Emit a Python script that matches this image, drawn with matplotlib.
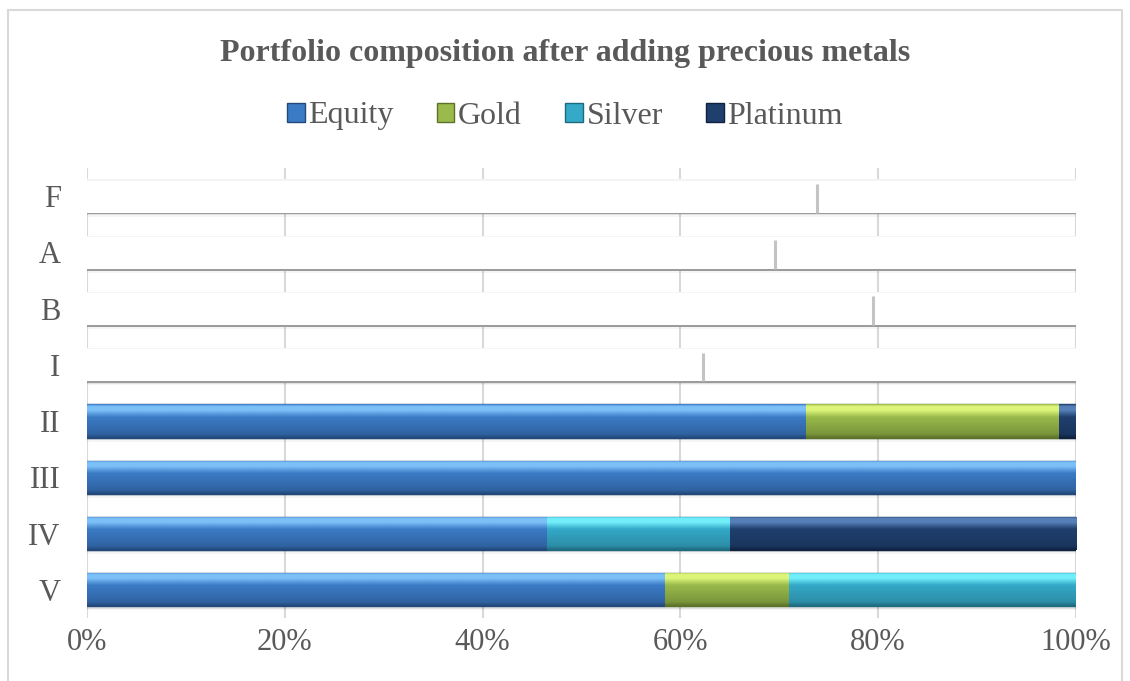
import matplotlib
matplotlib.use("Agg")
import matplotlib.pyplot as plt
import numpy as np
from matplotlib.patches import Rectangle
from matplotlib.colors import LinearSegmentedColormap

matplotlib.rcParams.update({'font.family': 'Liberation Serif'})

# data (shares of each portfolio)
categories = ["F", "A", "B", "I", "II", "III", "IV", "V"]
series_names = ["Equity", "Gold", "Silver", "Platinum"]
equity = [0.0, 0.0, 0.0, 0.0, 0.727, 1.0, 0.465, 0.585]
gold = [0.0, 0.0, 0.0, 0.0, 0.256, 0.0, 0.0, 0.125]
silver = [0.0, 0.0, 0.0, 0.0, 0.0, 0.0, 0.185, 0.290]
platinum = [0.0, 0.0, 0.0, 0.0, 0.017, 0.0, 0.350, 0.0]
# rows without visible series: invisible (white) split points
blank_split = [0.738, 0.696, 0.795, 0.623, None, None, None, None]

main_colors = ['#3b7bc6', '#9aba4b', '#34a9c8', '#1f3f6d']
light_colors = ['#7cc0f8', '#dcf57a', '#72eefa', '#5680b8']
dark_colors = ['#3063a2', '#7a963c', '#2c8ea8', '#1a365f']
edge_colors = ['#24487a', '#5c7229', '#1f6a7e', '#0f2240']
text_color = '#595959'
grid_color = '#d9d9d9'

values = [equity, gold, silver, platinum]
ypos = np.arange(len(categories))
bh = 0.59

fig = plt.figure(figsize=(11.3, 6.81), dpi=100)
ax = fig.add_axes([0.077, 0.0925, 0.875, 0.661])

# chart border
fig.patches.append(Rectangle((8 / 1130, -0.05), (1122 - 8) / 1130, 1 - 10 / 681 + 0.05,
                             transform=fig.transFigure, fill=False,
                             edgecolor=grid_color, linewidth=1.5))

ax.grid(axis='x', color=grid_color, linewidth=1.5, zorder=0)
ax.set_axisbelow(True)

full = np.ones(len(categories))

# soft shadows under every bar
ax.barh(ypos + 0.07, full, height=bh, color='#000000', alpha=0.04, zorder=1)
ax.barh(ypos + 0.04, full, height=bh, color='#000000', alpha=0.08, zorder=1)

# blank rows: white bars with a visible bottom edge
for i, sp in enumerate(blank_split):
    if sp is None:
        continue
    ax.barh(ypos[i] + 0.03, 1.0, height=bh, color='#9c9c9c', zorder=2)
    ax.barh(ypos[i], 1.0, height=bh, color='#ffffff', zorder=3)
    ax.barh(ypos[i] - bh / 2 + 0.01, 1.0, height=0.02, color='#f4f4f4', zorder=3)
    ax.vlines(sp, ypos[i] - bh / 2 + 0.08, ypos[i] + bh / 2, color='#c4c4c4',
              linewidth=2.2, zorder=4)

# stacked colored bars with a gradient fill
grad = np.linspace(0, 1, 100).reshape(-1, 1)
left = np.zeros(len(categories))
for k, vals in enumerate(values):
    vals = np.array(vals)
    keep = vals > 0
    bars = ax.barh(ypos[keep], vals[keep], height=bh, left=left[keep],
                   color=main_colors[k], edgecolor=edge_colors[k], linewidth=1.0, zorder=5)
    cmap = LinearSegmentedColormap.from_list(
        series_names[k],
        [(0.0, main_colors[k]), (0.06, light_colors[k]), (0.18, light_colors[k]),
         (0.38, main_colors[k]), (0.88, dark_colors[k]), (1.0, edge_colors[k])])
    for p in bars.patches:
        x0, y0, w, h = p.get_x(), p.get_y(), p.get_width(), p.get_height()
        im = ax.imshow(grad, extent=[x0, x0 + w, y0 + h, y0], origin='upper',
                       aspect='auto', cmap=cmap, zorder=5.5, interpolation='bilinear')
        im.set_clip_path(p)
    left = left + vals

ax.set_xlim(0, 1)
ax.set_ylim(len(categories) - 0.5, -0.5)
ax.xaxis.set_major_locator(matplotlib.ticker.FixedLocator([0, 0.2, 0.4, 0.6, 0.8, 1.0]))
ax.set_xticklabels(["0%", "20%", "40%", "60%", "80%", "100%"])
ax.set_yticks(ypos)
ax.set_yticklabels(categories)
ax.tick_params(axis='both', length=0, labelsize=22, colors=text_color)
ax.tick_params(axis='y', pad=19)
ax.tick_params(axis='x', pad=7)
for s in ax.spines.values():
    s.set_visible(False)

fig.text(0.5, 1 - 54 / 681, "Portfolio composition after adding precious metals",
         ha='center', va='center', fontsize=23, fontweight='bold', color=text_color)

handles = [Rectangle((0, 0), 1, 1, facecolor=main_colors[k], edgecolor=edge_colors[k])
           for k in range(len(series_names))]
fig.legend(handles, series_names, loc='center', bbox_to_anchor=(0.5, 1 - 116 / 681),
           ncol=4, frameon=False, fontsize=23, handlelength=0.55, handleheight=0.55,
           handletextpad=0.12, columnspacing=1.35, labelcolor=text_color)

fig.savefig("out.png", dpi=100)
